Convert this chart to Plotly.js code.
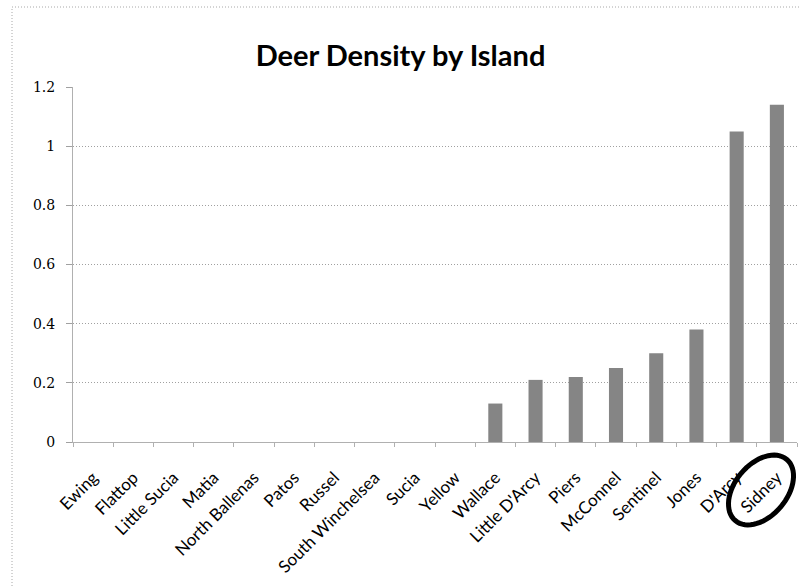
<!DOCTYPE html>
<html>
<head>
<meta charset="utf-8">
<script src="https://cdn.plot.ly/plotly-3.0.1.min.js"></script>
<style>
  html, body { margin: 0; padding: 0; background: #fff; }
  #chart { width: 801px; height: 588px; }
</style>
</head>
<body>
<div id="chart"></div>
<script>
// Islands, ordered by deer density
const islands = [
  "Ewing", "Flattop", "Little Sucia", "Matia", "North Ballenas", "Patos",
  "Russel", "South Winchelsea", "Sucia", "Yellow", "Wallace", "Little D'Arcy",
  "Piers", "McConnel", "Sentinel", "Jones", "D'Arcy", "Sidney"
];
const density = [
  0, 0, 0, 0, 0, 0,
  0, 0, 0, 0, 0.13, 0.21,
  0.22, 0.25, 0.30, 0.38, 1.05, 1.14
];
const yTicks = [0, 0.2, 0.4, 0.6, 0.8, 1, 1.2];
const yTickText = ["0", "0.2", "0.4", "0.6", "0.8", "1", "1.2"];

// Figure geometry (pixels)
const W = 801, H = 588;
const M = { l: 73, r: 4, t: 87, b: 146 };
const plotW = W - M.l - M.r, plotH = H - M.t - M.b;
const px = x => (x - M.l) / plotW;          // pixel x -> paper x
const py = y => (H - M.b - y) / plotH;      // pixel y -> paper y

// Hand-drawn style ring around the highlighted label
function ellipsePath(cx, cy, a, b, deg) {
  const t = deg * Math.PI / 180;
  const pts = [];
  for (let i = 0; i <= 64; i++) {
    const u = i / 64 * 2 * Math.PI;
    const ex = a * Math.cos(u), ey = b * Math.sin(u);
    const X = cx + ex * Math.cos(t) - ey * Math.sin(t);
    const Y = cy + ex * Math.sin(t) + ey * Math.cos(t);
    pts.push((i ? "L" : "M") + px(X).toFixed(4) + "," + py(Y).toFixed(4));
  }
  return pts.join(" ") + " Z";
}

const trace = {
  type: "bar",
  x: islands,
  y: density,
  marker: { color: "#858585", line: { width: 0 } },
  hoverinfo: "x+y"
};

const layout = {
  width: W, height: H,
  margin: M,
  paper_bgcolor: "#ffffff",
  plot_bgcolor: "#ffffff",
  showlegend: false,
  bargap: 0.65,
  title: {
    text: "<b>Deer Density by Island</b>",
    font: { family: "Lato, 'Open Sans', sans-serif", size: 29, color: "#000" },
    xref: "container", x: 0.5, xanchor: "center",
    yref: "container", y: 1 - 56 / H, yanchor: "middle"
  },
  xaxis: {
    type: "category",
    tickangle: -45,
    tickson: "boundaries",
    ticks: "outside", ticklen: 4, tickcolor: "#b0b0b0",
    ticklabelstandoff: 18,
    tickfont: { family: "Lato, 'Open Sans', sans-serif", size: 17, color: "#000" },
    showline: true, linecolor: "#b0b0b0", linewidth: 1,
    showgrid: false, zeroline: false, fixedrange: true
  },
  yaxis: {
    range: [0, 1.2],
    tickvals: yTicks, ticktext: yTickText,
    ticks: "outside", ticklen: 6, tickcolor: "#a0a0a0",
    ticklabelstandoff: 8,
    tickfont: { family: "'DejaVu Serif', 'Liberation Serif', serif", size: 14, color: "#000" },
    showgrid: true, gridcolor: "#a0a0a0", gridwidth: 1, griddash: "1px,2px",
    showline: true, linecolor: "#b0b0b0", linewidth: 1,
    zeroline: false, fixedrange: true
  },
  shapes: [
    {
      type: "rect", xref: "paper", yref: "paper", layer: "below",
      x0: px(12), x1: px(806), y0: py(595), y1: py(7),
      line: { color: "#a8a8a8", width: 1, dash: "1px,2px" },
      fillcolor: "rgba(0,0,0,0)"
    },
    {
      type: "path", xref: "paper", yref: "paper", layer: "above",
      path: ellipsePath(761, 490, 40, 26, -50),
      line: { color: "#000", width: 5 },
      fillcolor: "rgba(0,0,0,0)"
    }
  ]
};

Plotly.newPlot("chart", [trace], layout, { displayModeBar: false, staticPlot: true });
</script>
</body>
</html>
